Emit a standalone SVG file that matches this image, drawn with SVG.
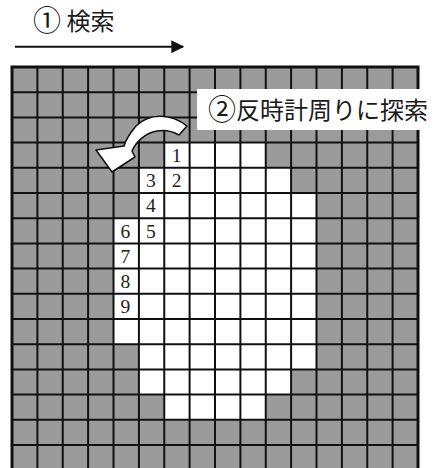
<svg xmlns="http://www.w3.org/2000/svg" width="446" height="468" viewBox="0 0 446 468">
<defs>
<style>
.bg{fill:#fff}
.gray{fill:#9b9b9b}
.white{fill:#fff}
.grid{stroke:#111;stroke-width:2;fill:none}
.border{stroke:#111;stroke-width:3;fill:none}
.num{font-family:"Liberation Serif","Times New Roman",serif;font-size:19.5px;fill:#222;text-anchor:middle}
.lbl{font-family:"Noto Sans CJK JP","Noto Sans",sans-serif;fill:#1a1a1a}
.circ{font-size:28px}
.arr{fill:#fff;stroke:#111;stroke-width:1.6;stroke-linejoin:round}
</style>
<marker id="ah" viewBox="0 0 10 10" refX="9" refY="5" markerWidth="7" markerHeight="6.5" markerUnits="strokeWidth" orient="auto"><path d="M0,0 L10,5 L0,10 Z" fill="#111"/></marker>
</defs>
<rect class="bg" x="0" y="0" width="446" height="468"/>
<g id="grid">
<rect class="gray" x="12" y="67" width="406" height="410"/>
<path class="white" d="M164.25,142.6 H265.75 V167.8 H291.1 V193 H316.5 V369.4 H291.1 V394.6 H265.75 V419.8 H164.25 V394.6 H138.9 V344.2 H113.5 V218.2 H138.9 V167.8 H164.25 Z"/>
<path class="grid" d="M37.4,67V470 M62.75,67V470 M88.1,67V470 M113.5,67V470 M138.9,67V470 M164.25,67V470 M189.6,67V470 M215,67V470 M240.4,67V470 M265.75,67V470 M291.1,67V470 M316.5,67V470 M341.9,67V470 M367.25,67V470 M392.6,67V470 M12,92.2H418 M12,117.4H418 M12,142.6H418 M12,167.8H418 M12,193H418 M12,218.2H418 M12,243.4H418 M12,268.6H418 M12,293.8H418 M12,319H418 M12,344.2H418 M12,369.4H418 M12,394.6H418 M12,419.8H418 M12,445H418"/>
<rect class="border" x="12" y="67" width="406" height="420"/>
</g>
<g id="numbers">
<text class="num" x="176.5" y="162">1</text>
<text class="num" x="176.5" y="187.2">2</text>
<text class="num" x="150.8" y="187.2">3</text>
<text class="num" x="150.8" y="212.4">4</text>
<text class="num" x="150.8" y="237.6">5</text>
<text class="num" x="125.4" y="237.6">6</text>
<text class="num" x="125.4" y="262.8">7</text>
<text class="num" x="125.4" y="288">8</text>
<text class="num" x="125.4" y="313.2">9</text>
</g>
<g id="label-search">
<text class="lbl" x="33" y="30" font-size="24"><tspan class="circ" dy="1">①</tspan><tspan dy="-1"> 検索</tspan></text>
</g>
<g id="label-ccw">
<rect class="white" x="197" y="89" width="240" height="41"/>
<text class="lbl" x="208" y="119" font-size="24"><tspan class="circ" dy="1">②</tspan><tspan dy="-1">反時計周りに探索</tspan></text>
</g>
<g id="connectors">
<path d="M15,46.7 H183" stroke="#111" stroke-width="2" marker-end="url(#ah)"/>
<path class="arr" d="M187,126 C172,114 150,112 136,126 C131,132 126,139 124,146 L96,150 L112,172 L135,157 L132,151 C136,142 145,133 157,131 C165,129.5 172,131 179,135 Z"/>
</g>
</svg>
